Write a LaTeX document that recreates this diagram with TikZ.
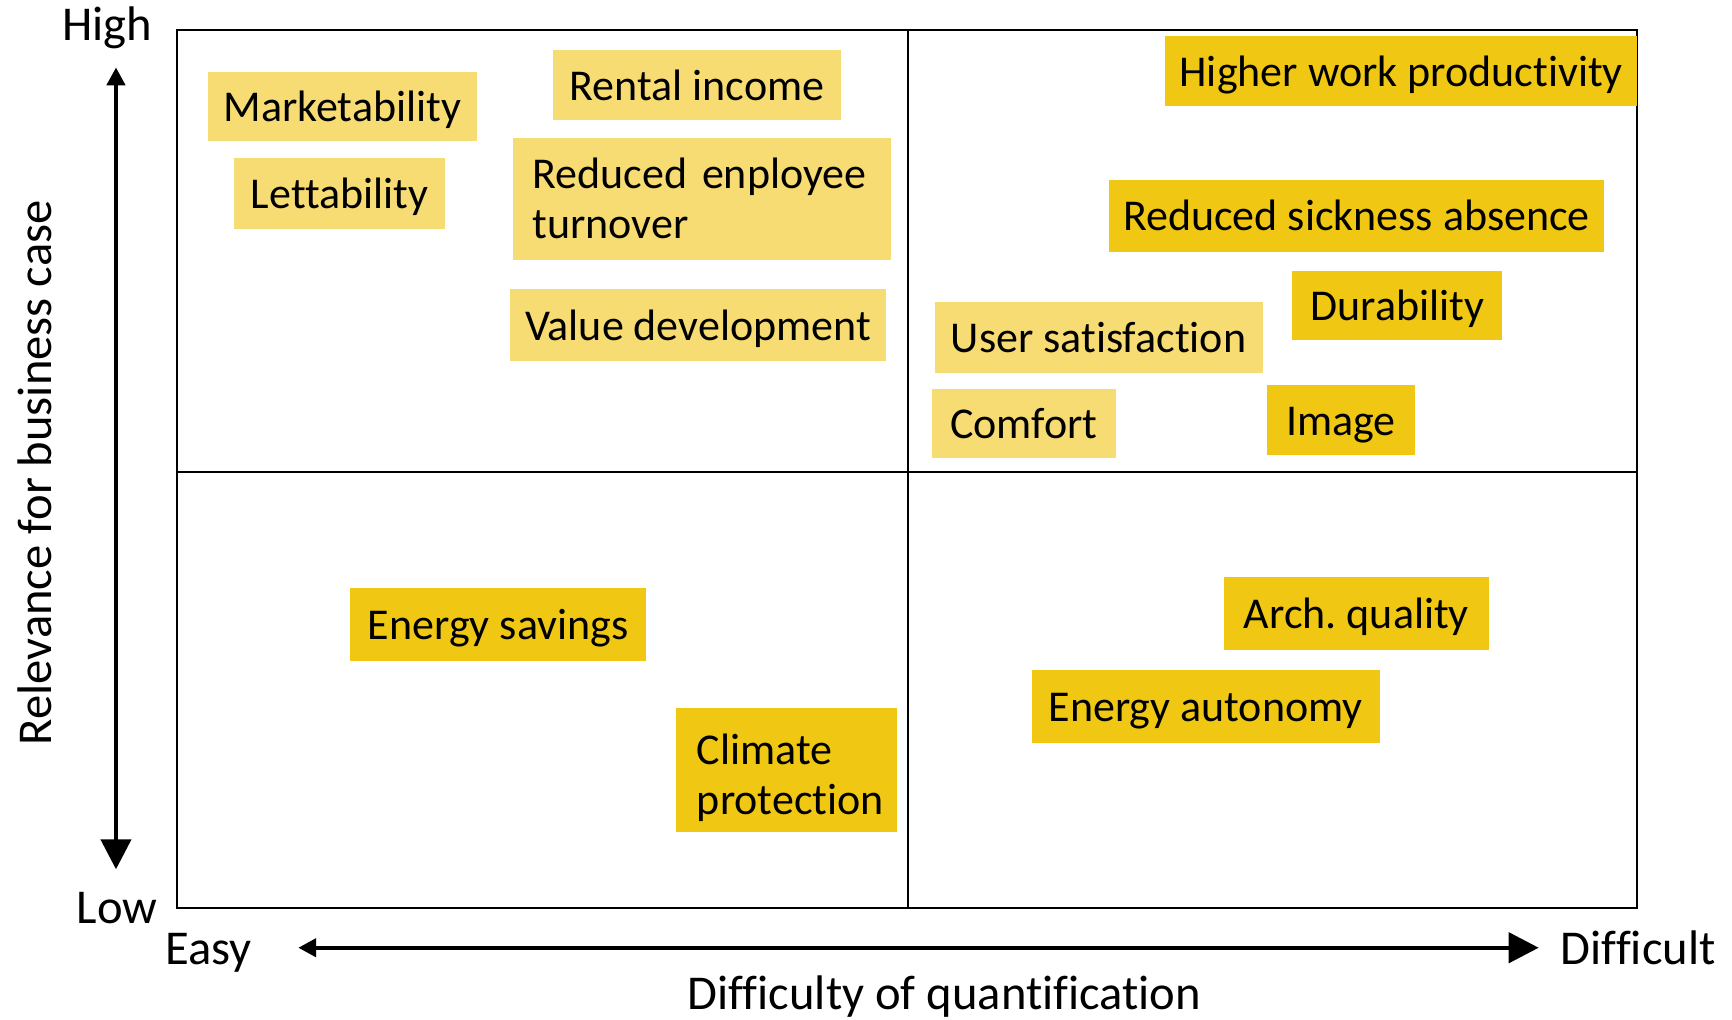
\documentclass[tikz,border=0pt]{standalone}
\usepackage{fontspec}
\setmainfont{Carlito}[Ligatures={NoCommon}]
\usetikzlibrary{arrows.meta}
\definecolor{lightgold}{RGB}{246,220,115}
\definecolor{darkgold}{RGB}{240,200,20}
\frenchspacing
\begin{document}
\begin{tikzpicture}[x=0.5523pt,y=-0.5523pt,
  lab/.style={font=\fontsize{22}{25}\selectfont, inner sep=0pt},
  axlab/.style={font=\fontsize{24.3}{28}\selectfont, inner sep=0pt},
  one/.style={text height=17pt, text depth=2pt},
  two/.style={align=left, inner xsep=10pt},
  lbox/.style={lab, fill=lightgold},
  dbox/.style={lab, fill=darkgold},
  frame/.style={line width=1pt},
  axarrow/.style={line width=2.2pt},
  bigtip/.tip={Triangle[length=15pt,width=15pt]},
  smalltip/.tip={Triangle[length=9pt,width=9pt]}]
\useasboundingbox (0,0) rectangle (1568,923);
% quadrant frame
\draw[frame] (160,27) rectangle (1482,822);
\draw[frame] (822,27) -- (822,822);
\draw[frame] (160,427) -- (1482,427);
% light boxes
\node[lbox, one, minimum width=134.8pt, minimum height=34.8pt] (mkt) at (310,96.5) {Marketability};
\node[lbox, one, minimum width=105.5pt, minimum height=35.3pt] (let) at (307.5,175) {Lettability};
\node[lbox, one, minimum width=143.6pt, minimum height=35.3pt] (rent) at (631,77) {Rental income};
\node[lbox, two, text width=169.4pt, minimum height=60.8pt] (emp) at (635.5,180) {Reduced enployee\\turnover};
\node[lbox, one, minimum width=187.8pt, minimum height=35.9pt] (val) at (632,294.5) {Value development};
\node[lbox, one, minimum width=164pt, minimum height=35.9pt] (usr) at (994.5,305.5) {User satisfaction};
\node[lbox, one, minimum width=91.7pt, minimum height=34.8pt] (cmf) at (927,383.5) {Comfort};
% dark boxes
\node[dbox, one, minimum width=235.8pt, minimum height=34.8pt] (prod) at (1268.5,64.5) {Higher work productivity};
\node[dbox, one, minimum width=247.4pt, minimum height=35.9pt] (sick) at (1228,195.5) {Reduced sickness absence};
\node[dbox, one, minimum width=104.9pt, minimum height=34.8pt] (dur) at (1265,276.5) {Durability};
\node[dbox, one, minimum width=74pt, minimum height=34.8pt] (img) at (1214,380.5) {Image};
\node[dbox, one, minimum width=148pt, minimum height=36.5pt] (ensav) at (451,565) {Energy savings};
\node[dbox, two, inner xsep=10.5pt, text width=89.5pt, text height=15.4pt, text depth=20.9pt, minimum height=61.9pt] (clim) at (712,697) {Climate\\protection};
\node[dbox, one, minimum width=132.6pt, minimum height=36.5pt] (arch) at (1228,555) {Arch. quality};
\node[dbox, one, minimum width=174pt, minimum height=36.5pt] (aut) at (1091.5,640) {Energy autonomy};
% axis labels
\node[axlab, anchor=base] (high) at (97,37) {High};
\node[axlab, anchor=base] (low) at (106,836) {Low};
\node[axlab, anchor=base] (easy) at (189,873) {Easy};
\node[axlab, anchor=base] (diff) at (1483,873) {Difficult};
\node[axlab, anchor=base] (dq) at (855,914) {Difficulty of quantification};
\node[axlab, anchor=base, rotate=90] (rel) at (47,428) {Relevance for business case};
% axis arrows
\coordinate (vtop) at (105,61);
\coordinate (vbot) at (105,787);
\coordinate (hleft) at (270,858);
\coordinate (hright) at (1393,858);
\draw[axarrow, {smalltip}-{bigtip}] (vtop) -- (vbot);
\draw[axarrow, {smalltip}-{bigtip}] (hleft) -- (hright);
\end{tikzpicture}
\end{document}
